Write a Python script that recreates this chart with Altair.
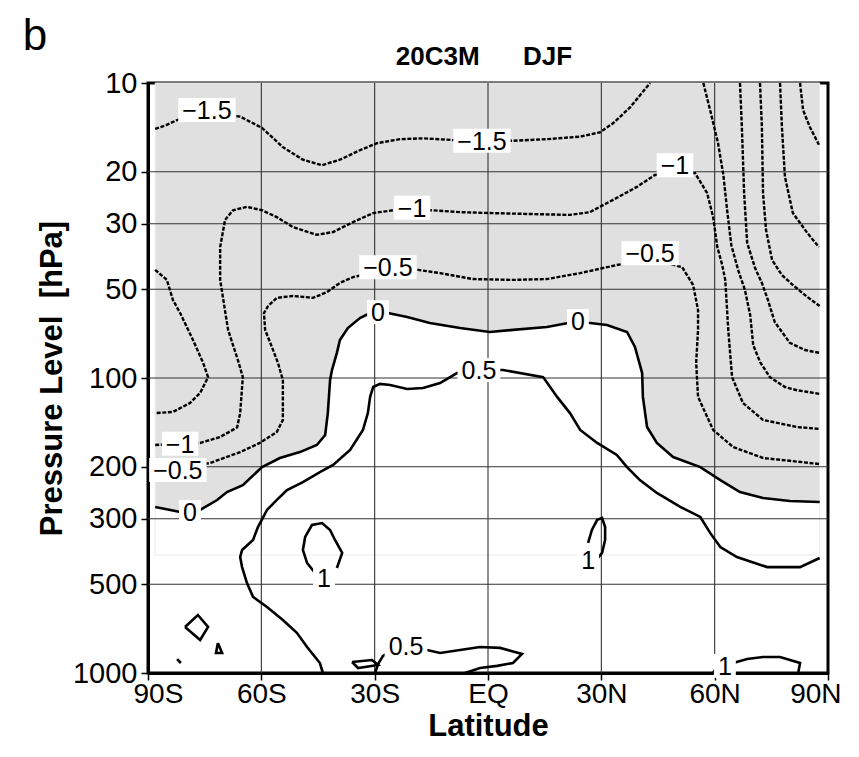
import altair as alt
import pandas as pd

# ---------------- axis ticks ----------------
lat_ticks = [-90, -60, -30, 0, 30, 60, 90]
lat_labels = ["90S", "60S", "30S", "EQ", "30N", "60N", "90N"]
p_ticks = [10, 20, 30, 50, 100, 200, 300, 500, 1000]
grid_lat = [-60, -30, 0, 30, 60]
grid_p = [20, 30, 50, 100, 200, 300, 500]

# ---------------- contour lines (lat, pressure hPa) ----------------
c_m15_top = [(-88.1, 14.3), (-85.2, 13.9), (-82.3, 13.35), (-74.1, 12.6), (-65.6, 13.0), (-59.8, 14.2),
             (-54.3, 16.5), (-49.0, 18.2), (-44.0, 19.0), (-39.2, 18.2), (-33.9, 16.9), (-29.4, 16.0),
             (-23.3, 15.5), (-17.2, 15.4), (-9.5, 15.6), (-2.1, 15.7), (6.6, 15.7), (15.6, 15.5),
             (24.4, 15.2), (29.6, 14.7), (33.1, 13.7), (37.6, 12.1), (42.9, 10.0)]
c_m15_left = [(-88.1, 43.0), (-85.0, 46.5), (-83.4, 54.4), (-81.5, 60.2), (-78.1, 74.3), (-75.4, 88.9),
              (-74.1, 99.3), (-76.2, 112.4), (-78.9, 121.6), (-83.4, 130.3), (-88.1, 131.5)]
c_m1 = [(-88.1, 168.7), (-82.1, 167), (-76.2, 166), (-70.9, 158.5), (-66.4, 147), (-65.6, 131.5),
        (-64.9, 99.3), (-66.2, 87), (-68.8, 68.7), (-70.9, 46.5), (-70.9, 36), (-69.6, 29.1),
        (-67.5, 27.0), (-63.8, 26.3), (-59.8, 27.0), (-55.9, 28.5), (-51.6, 30.8), (-45.3, 32.7),
        (-41.0, 32.0), (-35.7, 29.6), (-30.4, 27.6), (-25.1, 27.0), (-20.1, 27.0), (-14.8, 27.0),
        (-7.4, 27.4), (0.5, 27.6), (11.1, 27.8), (21.7, 28.0), (27.0, 27.4), (33.1, 24.9),
        (39.4, 22.5), (44.2, 20.5), (49.5, 20.2), (54.8, 20.2), (58.0, 23.6), (59.6, 28.5),
        (60.7, 36.0), (62.0, 41.4), (62.8, 46.5), (63.6, 68.7), (64.6, 99.3), (67.5, 121.6),
        (72.8, 138.7), (81.8, 146.6), (87.8, 148.9)]
c_m05 = [(-88.1, 208.4), (-81.5, 202), (-73.6, 194.2), (-65.6, 178.3), (-60.4, 166), (-55.9, 152.4),
         (-54.3, 138.7), (-54.3, 101.6), (-55.6, 88.9), (-57.2, 78.5), (-59.0, 68.7), (-59.3, 60.2),
         (-58.2, 57.0), (-55.9, 53.5), (-51.6, 52.7), (-46.3, 53.5), (-42.6, 51.1), (-39.2, 47.6),
         (-35.7, 45.5), (-27.3, 43.0), (-18.5, 43.0), (-12.7, 44.1), (-4.0, 46.2), (6.6, 46.5),
         (15.6, 46.2), (24.4, 44.1), (34.1, 41.4), (42.9, 39.5), (51.4, 42.1), (54.3, 48.4),
         (55.6, 58.8), (55.6, 68.7), (55.1, 88.9), (55.6, 115.9), (59.6, 150), (64.9, 171.4),
         (72.8, 186.7), (87.8, 195.7)]
c_m15_right = [(57.0, 10), (58.8, 12.35), (60.9, 16.0), (62.3, 20.5), (63.3, 27.0), (64.4, 35.4),
               (66.2, 43.0), (68.0, 50.3), (69.4, 61.1), (70.2, 77.3), (72.0, 88.2), (74.6, 99.3),
               (78.6, 107.3), (81.8, 110), (87.8, 113.2)]
c_m2 = [(66.7, 10), (67.2, 14.1), (67.8, 23.6), (68.6, 34.8), (70.7, 42.4), (72.5, 47.6),
        (74.1, 54.4), (75.9, 64.6), (79.9, 76.0), (83.9, 80.4), (87.8, 82.2)]
c_m25 = [(72.0, 10), (72.5, 14.1), (72.8, 23.6), (73.6, 31.5), (75.2, 39.8), (77.8, 44.8),
         (80.7, 48.4), (84.5, 53.1), (87.8, 57.0)]
c_m3 = [(77.3, 10), (77.8, 14.1), (78.6, 20.8), (80.7, 27.6), (84.5, 32.2), (87.6, 36.0)]
c_m35 = [(82.6, 10), (83.4, 12.35), (85.2, 14.1), (87.6, 16.2)]
c_0 = [(-88.1, 273.6), (-81.5, 284.5), (-76.2, 280), (-71.7, 259.2), (-69.1, 243.5), (-64.9, 230.7),
       (-59.8, 200.4), (-55.1, 186.7), (-49.8, 178.3), (-45.3, 168.7), (-43.1, 156), (-42.4, 131.5),
       (-41.8, 101.6), (-41.3, 94.0), (-40.0, 82.2), (-39.2, 74.3), (-37.1, 67.7), (-33.9, 62.6),
       (-31.2, 60.2), (-28.8, 59.8), (-26.5, 60.2), (-21.4, 62.1), (-15.4, 65.1), (-7.4, 67.7),
       (0.5, 69.8), (6.6, 68.7), (15.6, 67.2), (21.2, 65.1), (23.9, 64.6), (27.0, 65.1),
       (31.5, 66.1), (36.8, 69.8), (38.9, 78.5), (40.8, 96.2), (41.0, 115.9), (42.1, 146.6),
       (44.7, 166), (49.0, 185.4), (56.2, 200.4), (61.5, 221.8), (66.7, 243.5), (72.8, 255.2),
       (79.9, 261.3), (87.8, 263.2)]
c_05 = [(-43.7, 1000), (-44.5, 925), (-47.9, 816), (-50.6, 731), (-54.3, 661), (-58.5, 597),
        (-62.2, 552), (-63.8, 495.5), (-65.1, 437.5), (-65.6, 404.5), (-65.1, 382.7), (-62.2, 354),
        (-60.9, 320), (-59.6, 298), (-58.5, 280), (-55.9, 259), (-53.2, 240), (-49.0, 225.4),
        (-44.5, 208.4), (-41.0, 197), (-36.5, 175.4), (-33.1, 150), (-31.8, 131.5), (-31.2, 115.9),
        (-30.4, 107.3), (-28.6, 104.7), (-25.9, 105.6), (-21.4, 108.9), (-17.2, 108.1), (-12.7, 104),
        (-8.2, 96.2), (-2.6, 94), (4.0, 94), (14.6, 99.3), (18.3, 115.9), (21.7, 131.5),
        (24.4, 150), (28.9, 166), (34.1, 182.4), (36.8, 200.4), (40.2, 221.8), (44.7, 245.3),
        (50.9, 273.6), (56.2, 295.8), (58.8, 335), (61.5, 374), (65.9, 404.5), (73.9, 437.5),
        (82.6, 437.5), (87.8, 407.4)]
c_1_sh = [(-45.3, 465.6), (-47.9, 423.6), (-49.0, 382.7), (-48.4, 345.7), (-46.6, 315), (-43.9, 310.2),
          (-41.8, 327.5), (-40.5, 354), (-38.6, 391.7), (-40.0, 440.6)]
c_1_nh = [(26.5, 362.2), (27.5, 327.5), (28.9, 302.7), (30.2, 298.3), (31.0, 320), (31.0, 354),
          (30.2, 391.7), (29.1, 407.4)]
c_loop_a = [(-80.2, 698), (-76.8, 636), (-74.1, 698), (-76.2, 773), (-80.2, 698)]
c_loop_b = [(-71.5, 791), (-70.4, 855), (-72.0, 855), (-71.5, 791)]
c_dash_c = [(-82.3, 897), (-81.3, 925)]
c_05_bot = [(-29.9, 1000), (-29.1, 932), (-27.8, 875), (-25.9, 849), (-21.9, 836), (-16.1, 836),
            (-12.7, 855), (-7.4, 836), (-2.1, 816), (3.2, 822), (9.0, 862), (6.6, 925),
            (2.4, 946), (-2.1, 962), (-6.1, 1000)]
c_sliver = [(-36.0, 918), (-30.7, 904), (-29.1, 939), (-34.4, 962), (-36.0, 918)]
c_1_bot = [(64.9, 925), (68.6, 897), (72.8, 883), (77.3, 883), (82.6, 925), (82.1, 1000)]
c_1_tick = [(59.6, 1000), (60.4, 962)]

# name, dashed?, points
contours = [
    ("m15_top", True, c_m15_top), ("m15_left", True, c_m15_left), ("m1", True, c_m1),
    ("m05", True, c_m05), ("m15_right", True, c_m15_right), ("m2", True, c_m2),
    ("m25", True, c_m25), ("m3", True, c_m3), ("m35", True, c_m35),
    ("z0", False, c_0), ("p05", False, c_05), ("p1_sh", False, c_1_sh), ("p1_nh", False, c_1_nh),
    ("loop_a", False, c_loop_a), ("loop_b", False, c_loop_b), ("dash_c", False, c_dash_c),
    ("p05_bot", False, c_05_bot), ("sliver", False, c_sliver), ("p1_bot", False, c_1_bot),
    ("p1_tick", False, c_1_tick),
]

# contour labels: text, lat, pressure
label_text = ["−1.5", "−1.5", "−1", "−1", "−1", "−0.5", "−0.5", "−0.5",
              "0", "0", "0", "0.5", "0.5", "1", "1", "1"]
label_lat = [-74.4, -1.6, -81.5, -20.1, 49.5, -82.1, -26.5, 42.9,
             -78.9, -29.1, 23.8, -2.4, -21.7, -43.4, 26.5, 62.7]
label_p = [12.35, 15.7, 167, 26.5, 19.0, 205, 42.1, 37.8,
           284.5, 59.8, 64.1, 94, 810, 475, 414, 946]

title_text = "20C3M\u00a0\u00a0\u00a0\u00a0\u00a0\u00a0DJF"
panel_text = "b"

# ---------------- build tables ----------------
W, H = 680, 590
LAB_FS = 25
FONT = "Liberation Sans"
DEG_PER_PX = 180 / W
DEC_PER_PX = 2 / H

rows = []
for name, dashed, pts in contours:
    for i, (la, pp) in enumerate(pts):
        rows.append({"cid": name, "idx": i, "lat": la, "p": pp, "dashed": dashed})
df_lines = pd.DataFrame(rows)

df_zero = pd.DataFrame({"lat": [a for a, _ in c_0], "p": [b for _, b in c_0]})
df_zero["ptop"] = 10

def text_px(t):
    return sum(0.584 if c == "−" else 0.278 if c == "." else 0.556 for c in t) * LAB_FS + 8

df_lab = pd.DataFrame({"t": label_text, "lat": label_lat, "p": label_p})
half_w = df_lab["t"].map(text_px) / 2 * DEG_PER_PX
half_h = 10 ** (12 * DEC_PER_PX)
df_lab["lat1"] = df_lab["lat"] - half_w
df_lab["lat2"] = df_lab["lat"] + half_w
df_lab["p1"] = df_lab["p"] / half_h
df_lab["p2"] = df_lab["p"] * half_h

df_box = pd.DataFrame({"lat1": [c_0[0][0]], "lat2": [c_0[-1][0]], "p1": [10], "p2": [398]})

# ---------------- encodings ----------------
label_expr = "".join(f"datum.value == {v} ? '{l}' : " for v, l in zip(lat_ticks, lat_labels)) + "''"
lo, hi = lat_ticks[0], lat_ticks[-1]
xscale = alt.Scale(domain=[-90, 90], nice=False, zero=False)
yscale = alt.Scale(type="log", domain=[10, 1000], reverse=True, nice=False)

xaxis = alt.Axis(values=lat_ticks, labelExpr=label_expr, title="Latitude", grid=False,
                 tickSize=7, tickWidth=1.5, tickColor="black", domainWidth=3, domainColor="black",
                 labelFont=FONT, labelFontSize=28, labelColor="black", labelPadding=0,
                 labelAlign={"expr": f"datum.value == {hi} ? 'right' : datum.value == {lo} ? 'left' : 'center'"},
                 labelOffset={"expr": f"datum.value == {hi} ? 13 : datum.value == {lo} ? -15 : 0"},
                 titleFont=FONT, titleFontSize=31, titleFontWeight="bold", titleColor="black",
                 titlePadding=3, labelFlush=False, labelOverlap=False)
yaxis = alt.Axis(values=p_ticks, format="d", title="Pressure Level\u00a0 [hPa]", grid=False,
                 tickSize=7, tickWidth=1.5, tickColor="black", domainWidth=3, domainColor="black",
                 labelFont=FONT, labelFontSize=29, labelColor="black", labelPadding=4,
                 titleFont=FONT, titleFontSize=31, titleFontWeight="bold", titleColor="black",
                 titlePadding=4, labelFlush=False, labelOverlap=False)

X = lambda f: alt.X(f, type="quantitative", scale=xscale, axis=xaxis)
Y = lambda f: alt.Y(f, type="quantitative", scale=yscale, axis=yaxis)

fill = alt.Chart(df_zero).mark_area(color="#e0e0e0", orient="vertical").encode(
    x=X("lat"), y=Y("p"), y2="ptop:Q")

box = alt.Chart(df_box).mark_rect(fill=None, stroke="#ececec", strokeWidth=1).encode(
    x=X("lat1"), x2="lat2:Q", y=Y("p1"), y2="p2:Q")

vgrid = alt.Chart(pd.DataFrame({"lat": grid_lat})).mark_rule(color="#333333", strokeWidth=1.1).encode(
    x=X("lat"))
hgrid = alt.Chart(pd.DataFrame({"p": grid_p})).mark_rule(color="#333333", strokeWidth=1.1).encode(
    y=Y("p"))

dashed = alt.Chart(df_lines[df_lines["dashed"]]).mark_line(
    color="black", strokeWidth=2.4, strokeDash=[4, 1.6]).encode(
    x=X("lat"), y=Y("p"), detail="cid:N", order="idx:Q")
solid = alt.Chart(df_lines[~df_lines["dashed"]]).mark_line(
    color="black", strokeWidth=2.6).encode(
    x=X("lat"), y=Y("p"), detail="cid:N", order="idx:Q")

lab_bg = alt.Chart(df_lab).mark_rect(color="white").encode(
    x=X("lat1"), x2="lat2:Q", y=Y("p1"), y2="p2:Q")
lab_txt = alt.Chart(df_lab).mark_text(font=FONT, fontSize=LAB_FS, color="black",
                                      align="center", baseline="middle", dy=1).encode(
    x=X("lat"), y=Y("p"), text="t:N")

panel = alt.Chart(pd.DataFrame({"t": [panel_text]})).mark_text(
    font=FONT, fontSize=44, color="black", align="center", baseline="alphabetic").encode(
    x=alt.value(-113), y=alt.value(-33), text="t:N")

title = alt.Chart(pd.DataFrame({"t": [title_text]})).mark_text(
    font=FONT, fontSize=26, fontWeight="bold", color="black", align="center",
    baseline="alphabetic").encode(
    x=alt.value(W / 2 - 4), y=alt.value(-18), text="t:N")

chart = alt.layer(fill, box, vgrid, hgrid, dashed, solid, lab_bg, lab_txt, panel, title).properties(
    width=W, height=H,
    autosize=alt.AutoSizeParams(type="none"),
    padding={"left": 140, "top": 75, "right": 23, "bottom": 76},
).configure_view(stroke="black", strokeWidth=3)

chart.save("out.html", embed_options={"renderer": "svg", "actions": False})
